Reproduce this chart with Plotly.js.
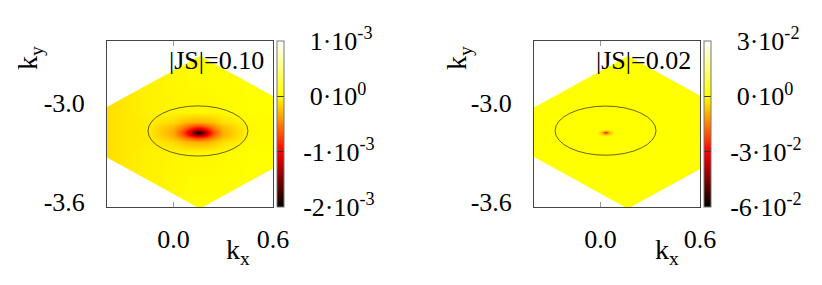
<!DOCTYPE html>
<html><head><meta charset="utf-8">
<script src="https://cdn.plot.ly/plotly-3.0.1.min.js"></script>
<style>html,body{margin:0;padding:0;background:#fff}#chart{width:822px;height:285px}</style>
</head><body><div id="chart"></div>
<script>
// ---------------- data ----------------
const xTickVals = [0.0, 0.6];
const xTickText = ['0.0', '0.6'];
const yTickVals = [-3.6, -3.0];
const yTickText = ['-3.6', '-3.0'];
const panelLabels = ['|JS|=0.10', '|JS|=0.02'];

// left panel field (units of 1e-3)
const leftX = [-0.45, -0.3, -0.15, 0.0, 0.06, 0.1, 0.13, 0.15, 0.17, 0.2, 0.24, 0.3, 0.45, 0.65];
const leftY = [-3.65, -3.27, -3.21, -3.185, -3.17, -3.158, -3.15, -3.142, -3.13, -3.115, -3.09, -3.03, -2.55];
const leftZ = [
  [-0.15,-0.09,-0.05,-0.02,-0.01,0,0,0,0,0,0,0,0,0],
  [-0.15,-0.09,-0.05,-0.04,-0.036,-0.03,-0.03,-0.03,-0.03,-0.03,-0.026,-0.02,0,0],
  [-0.15,-0.09,-0.07,-0.14,-0.24,-0.28,-0.30,-0.30,-0.30,-0.28,-0.23,-0.12,-0.02,0],
  [-0.15,-0.09,-0.076,-0.25,-0.46,-0.6,-0.7,-0.73,-0.7,-0.6,-0.45,-0.23,-0.026,0],
  [-0.15,-0.09,-0.08,-0.30,-0.59,-0.89,-1.10,-1.17,-1.10,-0.89,-0.58,-0.28,-0.03,0],
  [-0.15,-0.09,-0.08,-0.32,-0.69,-1.10,-1.52,-1.63,-1.52,-1.10,-0.68,-0.30,-0.03,0],
  [-0.15,-0.09,-0.08,-0.32,-0.71,-1.17,-1.63,-1.90,-1.63,-1.17,-0.70,-0.30,-0.03,0],
  [-0.15,-0.09,-0.08,-0.32,-0.69,-1.10,-1.52,-1.63,-1.52,-1.10,-0.68,-0.30,-0.03,0],
  [-0.15,-0.09,-0.08,-0.30,-0.59,-0.89,-1.10,-1.17,-1.10,-0.89,-0.58,-0.28,-0.03,0],
  [-0.15,-0.09,-0.076,-0.25,-0.46,-0.6,-0.7,-0.73,-0.7,-0.6,-0.45,-0.23,-0.026,0],
  [-0.15,-0.09,-0.07,-0.14,-0.24,-0.28,-0.30,-0.30,-0.30,-0.28,-0.23,-0.12,-0.02,0],
  [-0.15,-0.09,-0.05,-0.04,-0.036,-0.03,-0.03,-0.03,-0.03,-0.03,-0.026,-0.02,0,0],
  [-0.15,-0.09,-0.05,-0.02,-0.01,0,0,0,0,0,0,0,0,0]
];
const leftCbRange = [-2, 1];
const leftCbVals = [1, 0, -1, -2];
const leftCbText = ['1·10<sup>-3</sup>', '0·10<sup>0</sup>', '-1·10<sup>-3</sup>', '-2·10<sup>-3</sup>'];

// right panel field (units of 1e-2)
const rightX = [-0.45, -0.02, 0.01, 0.022, 0.03, 0.038, 0.05, 0.08, 0.65];
const rightY = [-3.65, -3.17, -3.158, -3.153, -3.15, -3.147, -3.142, -3.13, -2.55];
const rightZ = [
  [0,0,0,0,0,0,0,0,0],
  [0,0,0,0,0,0,0,0,0],
  [0,0,-0.49,-0.82,-0.9,-0.82,-0.49,0,0],
  [0,0,-0.83,-1.62,-2.0,-1.62,-0.83,0,0],
  [0,0,-0.9,-1.94,-2.8,-1.94,-0.9,0,0],
  [0,0,-0.83,-1.62,-2.0,-1.62,-0.83,0,0],
  [0,0,-0.49,-0.82,-0.9,-0.82,-0.49,0,0],
  [0,0,0,0,0,0,0,0,0],
  [0,0,0,0,0,0,0,0,0]
];
const rightCbRange = [-6, 3];
const rightCbVals = [3, 0, -3, -6];
const rightCbText = ['3·10<sup>-2</sup>', '0·10<sup>0</sup>', '-3·10<sup>-2</sup>', '-6·10<sup>-2</sup>'];

// zone boundary (rhombus vertices: top, right, bottom, left)
const leftBZx = [0.16, 0.996, 0.16, -0.676];
const leftBZy = [-2.69, -3.15, -3.61, -3.15];
const rightBZx = [0.165, 1.001, 0.165, -0.671];
const rightBZy = [-2.69, -3.15, -3.61, -3.15];

// Fermi-surface ellipses: centre x, centre y, semi-axes
const ellCx = [0.148, 0.031];
const ellCy = [-3.142, -3.14];
const ellA = [0.301, 0.304];
const ellB = [0.151, 0.148];

// ---------------- build ----------------
const FONT = 'Liberation Serif';
const hotScale = [[0, '#000000'], [1/3, '#ff0000'], [2/3, '#ffff00'], [1, '#ffffff']];
const W = 822, H = 285;
const pad = '\u00a0\u00a0';
function cbText(arr) { return arr.map(t => (t.startsWith('-') ? pad : pad + '\u00a0') + t); }

function heat(x, y, z, rng, vals, txt, xa, ya, cbx) {
  return {
    type: 'heatmap', x: x, y: y, z: z, zsmooth: 'best', colorscale: hotScale,
    zmin: rng[0], zmax: rng[1], xaxis: xa, yaxis: ya, hoverinfo: 'skip',
    colorbar: {
      x: cbx / W, xanchor: 'left', xref: 'paper', y: (H - 124) / H, yanchor: 'middle',
      len: 166, lenmode: 'pixels', thickness: 7, thicknessmode: 'pixels',
      xpad: 0, ypad: 0, outlinewidth: 1, outlinecolor: '#777',
      ticks: 'inside', ticklen: 7, tickcolor: '#333', tickwidth: 1,
      tickvals: vals, ticktext: cbText(txt),
      tickfont: {family: FONT, size: 26, color: '#000'}
    }
  };
}
function mask(bx, by, xa, ya) {
  const xo0 = -2, xo1 = 2, yo0 = -4.5, yo1 = -1.8;
  const px = [xo0, xo1, xo1, xo0, xo0, bx[0], bx[3], bx[2], bx[1], bx[0], xo0];
  const py = [yo1, yo1, yo0, yo0, yo1, by[0], by[3], by[2], by[1], by[0], yo1];
  return {type: 'scatter', mode: 'lines', x: px, y: py, fill: 'toself', fillcolor: '#ffffff',
    line: {width: 0, color: 'rgba(0,0,0,0)', simplify: false}, hoverinfo: 'skip', showlegend: false,
    xaxis: xa, yaxis: ya};
}

const data = [
  heat(leftX, leftY, leftZ, leftCbRange, leftCbVals, leftCbText, 'x', 'y', 277),
  mask(leftBZx, leftBZy, 'x', 'y'),
  heat(rightX, rightY, rightZ, rightCbRange, rightCbVals, rightCbText, 'x2', 'y2', 704),
  mask(rightBZx, rightBZy, 'x2', 'y2')
];

const tickFont = {family: FONT, size: 26, color: '#000'};
function xax(d0, d1, anchor) {
  return {domain: [d0 / W, d1 / W], anchor: anchor, range: [-0.4, 0.6], showgrid: false, zeroline: false,
    showline: true, linecolor: '#444', linewidth: 1, mirror: 'ticks',
    ticks: 'inside', ticklen: 5, tickcolor: '#999', tickwidth: 1,
    tickvals: xTickVals, ticktext: xTickText, tickfont: tickFont, ticklabelstandoff: 9};
}
function yax(anchor) {
  return {domain: [(H - 207) / H, (H - 41) / H], anchor: anchor, range: [-3.6, -2.6], showgrid: false, zeroline: false,
    showline: true, linecolor: '#444', linewidth: 1, mirror: true, ticks: '',
    tickvals: yTickVals, ticktext: yTickText, tickfont: tickFont, ticklabelstandoff: 16, ticklabelshift: -5};
}

const shapes = [0, 1].map(i => ({
  type: 'circle', xref: i === 0 ? 'x' : 'x2', yref: i === 0 ? 'y' : 'y2', layer: 'above',
  x0: ellCx[i] - ellA[i], x1: ellCx[i] + ellA[i], y0: ellCy[i] - ellB[i], y1: ellCy[i] + ellB[i],
  line: {color: 'rgba(30,30,0,0.85)', width: 0.8}
}));

const annFont = {family: FONT, size: 26, color: '#000'};
const titleFont = {family: FONT, size: 28, color: '#000'};
const annotations = [
  {text: panelLabels[0], xref: 'paper', yref: 'paper', x: 266 / W, y: (H - 60) / H, xanchor: 'right', yanchor: 'middle', showarrow: false, font: annFont},
  {text: panelLabels[1], xref: 'paper', yref: 'paper', x: 693 / W, y: (H - 60) / H, xanchor: 'right', yanchor: 'middle', showarrow: false, font: annFont},
  {text: 'k<sub>x</sub>', xref: 'paper', yref: 'paper', x: 238 / W, y: (H - 251) / H, xanchor: 'center', yanchor: 'middle', showarrow: false, font: titleFont},
  {text: 'k<sub>x</sub>', xref: 'paper', yref: 'paper', x: 667 / W, y: (H - 251) / H, xanchor: 'center', yanchor: 'middle', showarrow: false, font: titleFont},
  {text: 'k<sub>y</sub>', xref: 'paper', yref: 'paper', x: 30 / W, y: (H - 58) / H, xanchor: 'center', yanchor: 'middle', textangle: -90, showarrow: false, font: titleFont},
  {text: 'k<sub>y</sub>', xref: 'paper', yref: 'paper', x: 459 / W, y: (H - 58) / H, xanchor: 'center', yanchor: 'middle', textangle: -90, showarrow: false, font: titleFont}
];

const layout = {
  width: W, height: H, margin: {l: 0, r: 0, t: 0, b: 0},
  paper_bgcolor: '#fff', plot_bgcolor: '#fff', showlegend: false,
  xaxis: xax(107, 273, 'y'), yaxis: yax('x'),
  xaxis2: xax(534, 700, 'y2'), yaxis2: yax('x2'),
  shapes: shapes, annotations: annotations
};

Plotly.newPlot('chart', data, layout, {staticPlot: true, displayModeBar: false});
</script></body></html>
